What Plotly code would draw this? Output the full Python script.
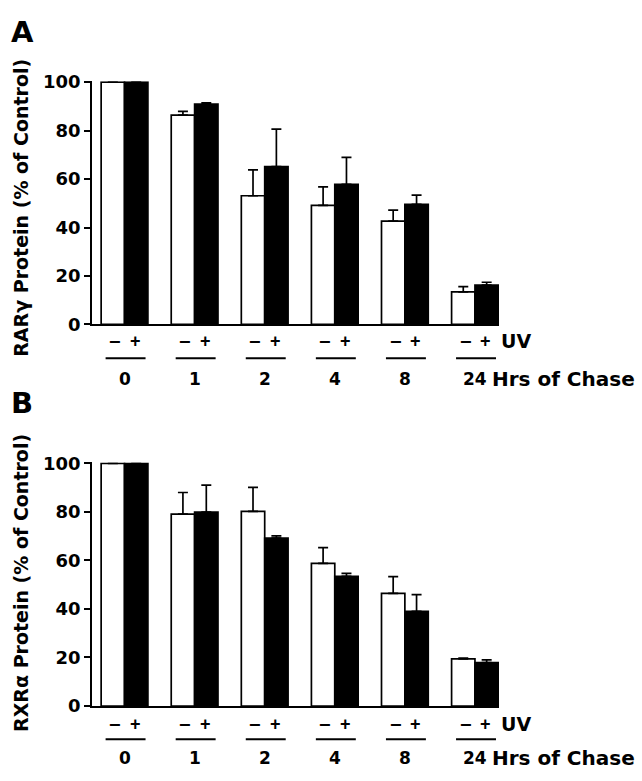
import plotly.graph_objects as go

W, H = 642, 781

# ---------------- data ----------------
hours = ["0", "1", "2", "4", "8", "24"]

rar_minus = [100, 86.4, 53.1, 49.1, 42.6, 13.4]
rar_minus_err = [0, 1.5, 10.7, 7.7, 4.6, 2.2]
rar_plus = [100, 90.9, 65.1, 57.8, 49.6, 16.2]
rar_plus_err = [0, 0.5, 15.5, 11.1, 3.8, 1.2]

rxr_minus = [100, 79.1, 80.2, 58.8, 46.4, 19.4]
rxr_minus_err = [0, 8.9, 9.9, 6.5, 6.9, 0.3]
rxr_plus = [100, 79.9, 69.2, 53.4, 39.0, 17.9]
rxr_plus_err = [0, 11.1, 0.9, 1.3, 6.9, 1.1]

yticks = [0, 20, 40, 60, 80, 100]
uv_labels = ["\u2212", "+"]

# ---------------- helpers ----------------
def py(p):
    return 1 - p / H

def px(p):
    return p / W

ARIAL_B = dict(family="Liberation Sans, Arial, sans-serif", color="black", weight="bold")
DEJAVU_B = dict(family="DejaVu Sans, sans-serif", color="black", weight="bold")

xpos = list(range(len(hours)))

fig = go.Figure()

panels = [
    dict(xa="x", ya="y", minus=rar_minus, me=rar_minus_err, plus=rar_plus, pe=rar_plus_err,
         top=74, bot=322.7, title="RAR\u03b3 Protein (% of Control)", letter="A", ly=23,
         pm_y=340, ul_y=357.5, num_y=379, title_y=203),
    dict(xa="x2", ya="y2", minus=rxr_minus, me=rxr_minus_err, plus=rxr_plus, pe=rxr_plus_err,
         top=465.3, bot=714.3, title="RXR\u03b1 Protein (% of Control)", letter="B", ly=403,
         pm_y=733, ul_y=748.5, num_y=768, title_y=588),
]

for p in panels:
    fig.add_trace(go.Bar(
        x=xpos, y=p["minus"], xaxis=p["xa"], yaxis=p["ya"],
        marker=dict(color="white", line=dict(color="black", width=1.7)),
        error_y=dict(type="data", symmetric=False, array=p["me"], arrayminus=[0] * 6,
                     color="black", thickness=1.7, width=5),
        showlegend=False, offsetgroup="m"))
    fig.add_trace(go.Bar(
        x=xpos, y=p["plus"], xaxis=p["xa"], yaxis=p["ya"],
        marker=dict(color="black", line=dict(color="black", width=1.7)),
        error_y=dict(type="data", symmetric=False, array=p["pe"], arrayminus=[0] * 6,
                     color="black", thickness=1.7, width=5),
        showlegend=False, offsetgroup="p"))

annotations = []
shapes = []
for p in panels:
    # y axis title
    annotations.append(dict(text=p["title"], xref="paper", yref="paper", x=px(21), y=py(p["title_y"]),
                            textangle=-90, showarrow=False, xanchor="center", yanchor="middle",
                            font=dict(size=19, **DEJAVU_B)))
    # panel letter
    annotations.append(dict(text=p["letter"], xref="paper", yref="paper", x=px(9), y=py(p["ly"]),
                            showarrow=False, xanchor="left", yanchor="middle",
                            font=dict(size=29, **DEJAVU_B)))
    for i, h in enumerate(hours):
        annotations.append(dict(text=uv_labels[0], xref=p["xa"], yref="paper", x=i - 0.14, y=py(p["pm_y"]),
                                showarrow=False, xanchor="center", yanchor="middle",
                                font=dict(size=16, **DEJAVU_B)))
        annotations.append(dict(text=uv_labels[1], xref=p["xa"], yref="paper", x=i + 0.15, y=py(p["pm_y"]),
                                showarrow=False, xanchor="center", yanchor="middle",
                                font=dict(size=18, **ARIAL_B)))
        annotations.append(dict(text=h, xref=p["xa"], yref="paper", x=i, y=py(p["num_y"]),
                                showarrow=False, xanchor="center", yanchor="middle",
                                font=dict(size=17, **DEJAVU_B)))
        shapes.append(dict(type="line", xref=p["xa"], yref="paper", x0=i - 0.27, x1=i + 0.30,
                           y0=py(p["ul_y"]), y1=py(p["ul_y"]), line=dict(color="black", width=2)))
    annotations.append(dict(text="UV", xref="paper", yref="paper", x=px(499), y=py(p["pm_y"]),
                            showarrow=False, xanchor="left", yanchor="middle",
                            font=dict(size=19, **DEJAVU_B)))
    annotations.append(dict(text="Hrs of Chase", xref="paper", yref="paper", x=px(490), y=py(p["num_y"]),
                            showarrow=False, xanchor="left", yanchor="middle",
                            font=dict(size=20, **DEJAVU_B)))

xrange = [-0.464, 5.343]
xdom = [px(92), px(499)]

axis_common_x = dict(range=xrange, domain=xdom, showline=True, linecolor="black", linewidth=1.8,
                     ticks="", showticklabels=False, showgrid=False, zeroline=False, fixedrange=True)
axis_common_y = dict(range=[0, 100.4], showline=True, linecolor="black", linewidth=1.8,
                     ticks="outside", ticklen=6, tickwidth=1.6, tickcolor="black",
                     tickvals=yticks, ticktext=[str(t) for t in yticks],
                     tickfont=dict(size=18, **DEJAVU_B),
                     showgrid=False, zeroline=False, fixedrange=True)

fig.update_layout(
    width=W, height=H, autosize=False,
    margin=dict(l=0, r=0, t=0, b=0),
    paper_bgcolor="white", plot_bgcolor="white",
    barmode="group", bargap=0.333, bargroupgap=0,
    xaxis=dict(anchor="y", **axis_common_x),
    yaxis=dict(anchor="x", domain=[py(322.7), py(74 - 0.4 * 2.487)], **axis_common_y),
    xaxis2=dict(anchor="y2", **axis_common_x),
    yaxis2=dict(anchor="x2", domain=[py(714.3), py(465.3 - 0.4 * 2.49)], **axis_common_y),
    annotations=annotations,
    shapes=shapes,
)

fig.write_html("out.html", config=dict(displayModeBar=False),
               post_script="document.body.style.margin='0';document.body.style.overflow='hidden';")
